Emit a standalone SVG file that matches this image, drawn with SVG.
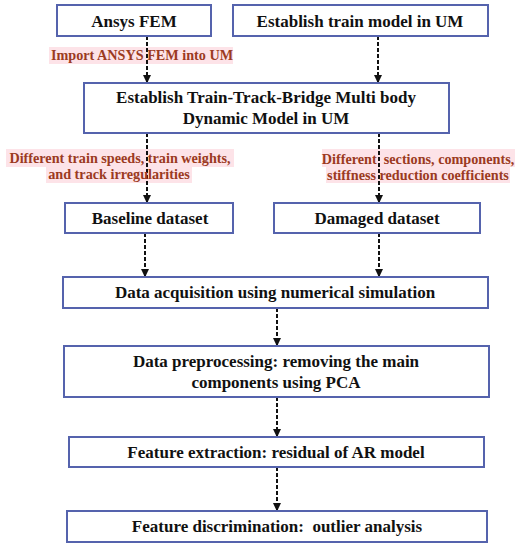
<svg xmlns="http://www.w3.org/2000/svg" width="517" height="550" viewBox="0 0 517 550">
<defs>
<marker id="ah" markerWidth="9" markerHeight="9" refX="8" refY="4.5" orient="auto" markerUnits="userSpaceOnUse" viewBox="0 0 9 9">
<path d="M0,0.5 L8.5,4.5 L0,8.5 Z" fill="#111"/>
</marker>
<style>
.box{fill:#fff;stroke:#5563ad;stroke-width:2}
.t{font-family:"Liberation Serif","Times New Roman",serif;font-weight:bold;font-size:17px;fill:#111;text-anchor:middle;white-space:pre}
.lb{font-family:"Liberation Serif","Times New Roman",serif;font-weight:bold;font-size:14.2px;fill:#9b3a22;text-anchor:middle;white-space:pre}
.bg{fill:#fde3e8}
.c{stroke:#111;stroke-width:2;stroke-dasharray:4 2;fill:none}
</style>
</defs>
<rect width="517" height="550" fill="#fff"/>
<g id="labels-bg">
<rect class="bg" x="49" y="47" width="184" height="17"/>
<rect class="bg" x="6" y="149" width="228" height="18"/>
<rect class="bg" x="46" y="167" width="146" height="16"/>
<rect class="bg" x="322" y="149" width="193" height="18"/>
<rect class="bg" x="326" y="167" width="184" height="16"/>
</g>
<g id="connectors">
<path class="c" d="M147,36 V83" marker-end="url(#ah)"/>
<path class="c" d="M378,36 V83" marker-end="url(#ah)"/>
<path class="c" d="M147,133 V203" marker-end="url(#ah)"/>
<path class="c" d="M379,133 V203" marker-end="url(#ah)"/>
<path class="c" d="M145,233 V277" marker-end="url(#ah)"/>
<path class="c" d="M379,233 V277" marker-end="url(#ah)"/>
<path class="c" d="M277,308 V346" marker-end="url(#ah)"/>
<path class="c" d="M277,397 V437" marker-end="url(#ah)"/>
<path class="c" d="M277,467 V511" marker-end="url(#ah)"/>
</g>
<g id="edge-labels">
<text class="lb" x="142" y="60">Import ANSYS FEM into UM</text>
<text class="lb" x="120" y="163">Different train speeds, train weights,</text>
<text class="lb" x="119" y="179">and track irregularities</text>
<text class="lb" x="418" y="164" xml:space="preserve">Different  sections, components,</text>
<text class="lb" x="418" y="180">stiffness reduction coefficients</text>
</g>
<g id="n1"><rect class="box" x="57" y="5" width="154" height="31"/><text class="t" x="134" y="27">Ansys FEM</text></g>
<g id="n2"><rect class="box" x="233" y="5" width="255" height="31"/><text class="t" x="360" y="27">Establish train model in UM</text></g>
<g id="n3"><rect class="box" x="84" y="83" width="365" height="50"/><text class="t" x="266" y="103">Establish Train-Track-Bridge Multi body</text><text class="t" x="266" y="124">Dynamic Model in UM</text></g>
<g id="n4"><rect class="box" x="65" y="203" width="168" height="30"/><text class="t" x="150" y="224">Baseline dataset</text></g>
<g id="n5"><rect class="box" x="274" y="203" width="206" height="30"/><text class="t" x="377" y="224">Damaged dataset</text></g>
<g id="n6"><rect class="box" x="63" y="277" width="425" height="31"/><text class="t" x="275" y="298">Data acquisition using numerical simulation</text></g>
<g id="n7"><rect class="box" x="64" y="346" width="425" height="51"/><text class="t" x="276" y="367">Data preprocessing: removing the main</text><text class="t" x="276" y="388">components using PCA</text></g>
<g id="n8"><rect class="box" x="69" y="437" width="415" height="30"/><text class="t" x="276" y="458">Feature extraction: residual of AR model</text></g>
<g id="n9"><rect class="box" x="67" y="511" width="420" height="31"/><text class="t" x="277" y="532" xml:space="preserve">Feature discrimination:  outlier analysis</text></g>
</svg>
